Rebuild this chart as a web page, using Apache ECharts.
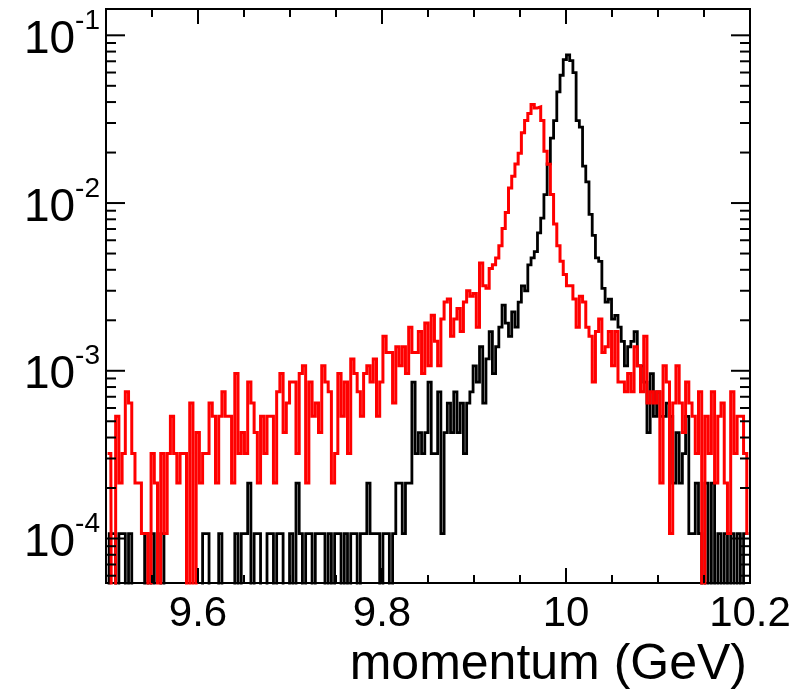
<!DOCTYPE html>
<html>
<head>
<meta charset="utf-8">
<script src="https://cdn.jsdelivr.net/npm/echarts@6/dist/echarts.min.js"></script>
<style>
  html, body { margin: 0; padding: 0; background: #fff; }
  #chart { width: 808px; height: 695px; }
</style>
</head>
<body>
<div id="chart"></div>
<script>
  // histogram binning: 200 bins between 9.5 and 10.2 GeV
  const binRange = [9.5, 10.2];
  const nBins = 200;
  // height of one entry after normalisation
  const perEntry = 1.07e-4;

  // entries per bin
  const blackCounts = [
    0,1,1,0,1,1,0,1,0,0, 0,0,1,0,1,0,0,1,0,0, 0,0,0,0,0,0,0,0,0,0,
    1,1,0,0,0,1,0,0,0,0, 1,0,1,1,2,0,1,1,0,0,
    1,1,0,1,1,0,0,1,0,2, 1,0,1,1,0,1,1,1,0,1, 0,1,1,0,1,0,1,1,0,1,
    1,2,1,1,1,0,1,1,0,1, 2,2,1,2,2,8,3,4,3,4,
    8,3,3,7,1,4,6,4,7,4, 6,3,6,7,10,8,13,6,11,16, 9,13,17,23,18,15,21,17,24,30,
    28,40,44,48,62,76,105,160,228,290, 430,540,670,715,660,560,290,265,155,125,
    80,60,44,42,29,24,25,19,20,17, 14,10,13,14,16,10,10,8,4,9, 5,7,5,5,6,5,2,4,2,3,
    5,1,1,2,1,0,2,0,2,0, 1,0,1,0,1,0,1,0,1,1
  ];
  const redCounts = [
    3,3,0,5,2,3,7,6,3,2, 2,1,1,0,3,2,0,3,1,3, 5,3,2,3,3,0,6,0,4,2,
    3,3,6,5,2,5,7,5,5,2, 9,3,4,3,8,6,4,2,5,3,
    5,5,2,7,9,4,6,8,8,3, 9,10,2,8,5,6,4,10,8,7, 2,3,9,5,8,3,11,9,7,5,
    9,10,8,11,5,8,15,12,12,6, 13,10,13,9,17,12,12,16,9,18,
    10,20,14,10,19,24,25,15,19,22, 16,24,28,26,27,17,41,30,29,38, 40,44,52,66,82,115,135,160,185,245,
    290,320,362,345,350,290,190,159,105,70, 52,42,35,30,30,25,17,26,24,17,
    15,8,16,19,12,13,16,10,16,8, 8,7,9,7,13,10,7,15,6,7, 6,7,2,10,8,1,6,10,6,4,
    8,6,5,3,7,0,5,3,7,2, 5,6,2,1,7,3,5,5,3,1
  ];

  const yRange = [5.43e-5, 0.1435];
  const xLabels = [9.6, 9.8, 10, 10.2];
  const xMajorTicks = [9.6, 9.8, 10.0, 10.2];
  const xMinorTicks = [9.55, 9.65, 9.7, 9.75, 9.85, 9.9, 9.95, 10.05, 10.1, 10.15];
  const yMajorTicks = [1e-4, 1e-3, 1e-2, 1e-1];
  const yMinorTicks = [
    6e-5, 7e-5, 8e-5, 9e-5,
    2e-4, 3e-4, 4e-4, 5e-4, 6e-4, 7e-4, 8e-4, 9e-4,
    2e-3, 3e-3, 4e-3, 5e-3, 6e-3, 7e-3, 8e-3, 9e-3,
    2e-2, 3e-2, 4e-2, 5e-2, 6e-2, 7e-2, 8e-2, 9e-2
  ];

  const font = 'Liberation Sans';
  const binWidth = (binRange[1] - binRange[0]) / nBins;

  // empty bins are sent below the frame so the line drops to the bottom edge
  function toSeries(counts) {
    return counts.map((c, i) => [
      binRange[0] + (i + 0.5) * binWidth,
      c > 0 ? c * perEntry : 1e-7
    ]);
  }

  const tickData = [];
  xMajorTicks.forEach(v => tickData.push([v, 15, 0]));
  xMinorTicks.forEach(v => tickData.push([v, 8, 0]));
  yMajorTicks.forEach(v => tickData.push([v, 19, 1]));
  yMinorTicks.forEach(v => tickData.push([v, 10, 1]));

  function seg(x1, y1, x2, y2) {
    return {
      type: 'line',
      shape: { x1: x1, y1: y1, x2: x2, y2: y2 },
      style: { stroke: '#000', lineWidth: 2 }
    };
  }

  let chart = echarts.init(document.getElementById('chart'));
  chart.setOption({
    animation: false,
    backgroundColor: '#fff',
    title: {
      text: 'momentum (GeV)',
      right: 56,
      bottom: 0,
      textStyle: { fontFamily: font, fontSize: 50, fontWeight: 'normal', color: '#000' }
    },
    grid: {
      left: 106,
      top: 9,
      width: 644,
      height: 574,
      show: true,
      borderColor: '#000',
      borderWidth: 2,
      backgroundColor: 'transparent'
    },
    xAxis: {
      type: 'value',
      min: binRange[0],
      max: binRange[1],
      interval: 0.05,
      axisLine: { show: false },
      axisTick: { show: false },
      splitLine: { show: false },
      axisLabel: {
        margin: 10,
        color: '#000',
        fontFamily: font,
        fontSize: 42,
        formatter: function (v) {
          let hit = xLabels.find(l => Math.abs(l - v) < 1e-6);
          return hit === undefined ? '' : String(hit);
        }
      }
    },
    yAxis: {
      type: 'log',
      min: yRange[0],
      max: yRange[1],
      axisLine: { show: false },
      axisTick: { show: false },
      splitLine: { show: false },
      minorTick: { show: false },
      axisLabel: {
        margin: 6,
        formatter: function (v) {
          let e = Math.log10(v);
          let r = Math.round(e);
          if (Math.abs(e - r) > 1e-6) return '';
          return '{b|10}{s|' + r + '}';
        },
        rich: {
          b: { fontFamily: font, fontSize: 46, color: '#000', lineHeight: 56, verticalAlign: 'bottom' },
          s: { fontFamily: font, fontSize: 28, color: '#000', lineHeight: 56, verticalAlign: 'top' }
        }
      }
    },
    series: [
      {
        name: 'black',
        type: 'line',
        step: 'middle',
        showSymbol: false,
        clip: true,
        data: toSeries(blackCounts),
        lineStyle: { color: '#000', width: 2.8, join: 'miter' },
        z: 2
      },
      {
        name: 'red',
        type: 'line',
        step: 'middle',
        showSymbol: false,
        clip: true,
        data: toSeries(redCounts),
        lineStyle: { color: '#ff0000', width: 3, join: 'miter' },
        z: 3
      },
      {
        name: 'ticks',
        type: 'custom',
        silent: true,
        z: 5,
        data: tickData,
        renderItem: function (params, api) {
          let pos = api.value(0);
          let len = api.value(1);
          if (api.value(2) === 0) {
            let b = api.coord([pos, yRange[0]]);
            let t = api.coord([pos, yRange[1]]);
            return { type: 'group', children: [
              seg(b[0], b[1], b[0], b[1] - len),
              seg(t[0], t[1], t[0], t[1] + len)
            ] };
          }
          let l = api.coord([binRange[0], pos]);
          let r = api.coord([binRange[1], pos]);
          return { type: 'group', children: [
            seg(l[0], l[1], l[0] + len, l[1]),
            seg(r[0], r[1], r[0] - len, r[1])
          ] };
        }
      }
    ]
  });

  window.addEventListener('resize', () => {
    if (chart) chart.resize();
  });
</script>
</body>
</html>
